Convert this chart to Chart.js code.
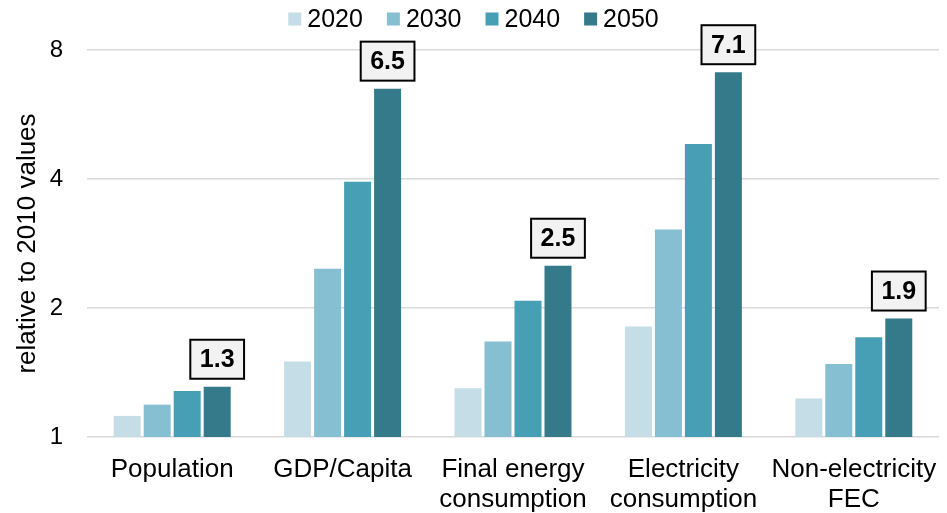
<!DOCTYPE html>
<html>
<head>
<meta charset="utf-8">
<style>
  html, body { margin: 0; padding: 0; background: #ffffff; }
  #wrap { width: 947px; height: 513px; }
</style>
<script src="https://cdn.jsdelivr.net/npm/chart.js@4.4.1/dist/chart.umd.min.js"></script>
</head>
<body>
<div id="wrap"><canvas id="c" width="947" height="513"></canvas></div>
<script>
// Growth indicators relative to 2010 (log2 axis)
const categories = [
  'Population',
  'GDP/Capita',
  ['Final energy', 'consumption'],
  ['Electricity', 'consumption'],
  ['Non-electricity', 'FEC']
];
const years = ['2020', '2030', '2040', '2050'];
const values2020 = [1.12, 1.50, 1.30, 1.81, 1.23];
const values2030 = [1.19, 2.47, 1.67, 3.05, 1.48];
const values2040 = [1.28, 3.94, 2.08, 4.83, 1.71];
const values2050 = [1.31, 6.50, 2.51, 7.10, 1.89];
const yTicks = [1, 2, 4, 8];
const colors = ['#c5dde6', '#86bfd1', '#479fb6', '#347a8a'];

const FONT = "'Liberation Sans', Arial, sans-serif";

// Boxed value labels above the 2050 bars
const valueBoxes = {
  id: 'valueBoxes',
  afterDatasetsDraw(chart) {
    const ctx = chart.ctx;
    const di = chart.data.datasets.length - 1;
    const meta = chart.getDatasetMeta(di);
    const data = chart.data.datasets[di].data;
    ctx.save();
    ctx.font = 'bold 25px ' + FONT;
    ctx.textAlign = 'center';
    ctx.textBaseline = 'middle';
    meta.data.forEach((bar, i) => {
      const txt = data[i].toFixed(1);
      const w = ctx.measureText(txt).width + 19;
      const h = 39;
      const x = bar.x - w / 2;
      const y = bar.y - 8 - h;
      ctx.fillStyle = '#f2f2f2';
      ctx.fillRect(x, y, w, h);
      ctx.lineWidth = 2;
      ctx.strokeStyle = '#000000';
      ctx.strokeRect(x, y, w, h);
      ctx.fillStyle = '#000000';
      ctx.fillText(txt, bar.x, y + h / 2 + 1);
    });
    ctx.restore();
  }
};

// Horizontal legend centred at the top of the canvas
const topLegend = {
  id: 'topLegend',
  afterDraw(chart) {
    const ctx = chart.ctx;
    const box = 13, gap = 6, space = 24, cy = 19;
    ctx.save();
    ctx.font = '25px ' + FONT;
    ctx.textBaseline = 'middle';
    ctx.textAlign = 'left';
    const items = chart.data.datasets.map(d => ({
      label: d.label, color: d.backgroundColor, tw: ctx.measureText(d.label).width
    }));
    const total = items.reduce((s, it) => s + box + gap + it.tw, 0) + space * (items.length - 1);
    let x = chart.width / 2 - total / 2;
    items.forEach(it => {
      ctx.fillStyle = it.color;
      ctx.fillRect(x, cy - box / 2, box, box);
      ctx.fillStyle = '#000000';
      ctx.fillText(it.label, x + box + gap, cy + 1);
      x += box + gap + it.tw + space;
    });
    ctx.restore();
  }
};

const series = [values2020, values2030, values2040, values2050];

new Chart(document.getElementById('c'), {
  type: 'bar',
  data: {
    labels: categories,
    datasets: years.map((y, i) => ({
      label: y,
      data: series[i],
      backgroundColor: colors[i],
      barPercentage: 0.9,
      categoryPercentage: 0.704
    }))
  },
  options: {
    responsive: false,
    animation: false,
    layout: { padding: { left: 12, right: 8, top: 50, bottom: 0 } },
    plugins: {
      legend: { display: false },
      tooltip: { enabled: false }
    },
    scales: {
      x: {
        afterFit(scale) {
          scale.height = 76;
          scale.paddingLeft = 0;
          scale.paddingRight = 0;
        },
        grid: { display: false, drawTicks: false },
        border: { display: false },
        ticks: {
          color: '#000000',
          font: { family: FONT, size: 26, lineHeight: 1.15 },
          padding: 18,
          maxRotation: 0,
          autoSkip: false
        }
      },
      y: {
        type: 'logarithmic',
        min: 1,
        max: 8,
        afterBuildTicks(scale) {
          scale.ticks = yTicks.map(v => ({ value: v }));
        },
        afterFit(scale) { scale.width = 75; },
        grid: { color: '#d9d9d9', lineWidth: 1.5, drawTicks: false },
        border: { display: false },
        ticks: {
          color: '#000000',
          font: { family: FONT, size: 24 },
          padding: 24,
          callback: v => String(v)
        },
        title: {
          display: true,
          text: 'relative to 2010 values',
          color: '#000000',
          font: { family: FONT, size: 26, lineHeight: 1.2 },
          padding: 0
        }
      }
    }
  },
  plugins: [valueBoxes, topLegend]
});
</script>
</body>
</html>
